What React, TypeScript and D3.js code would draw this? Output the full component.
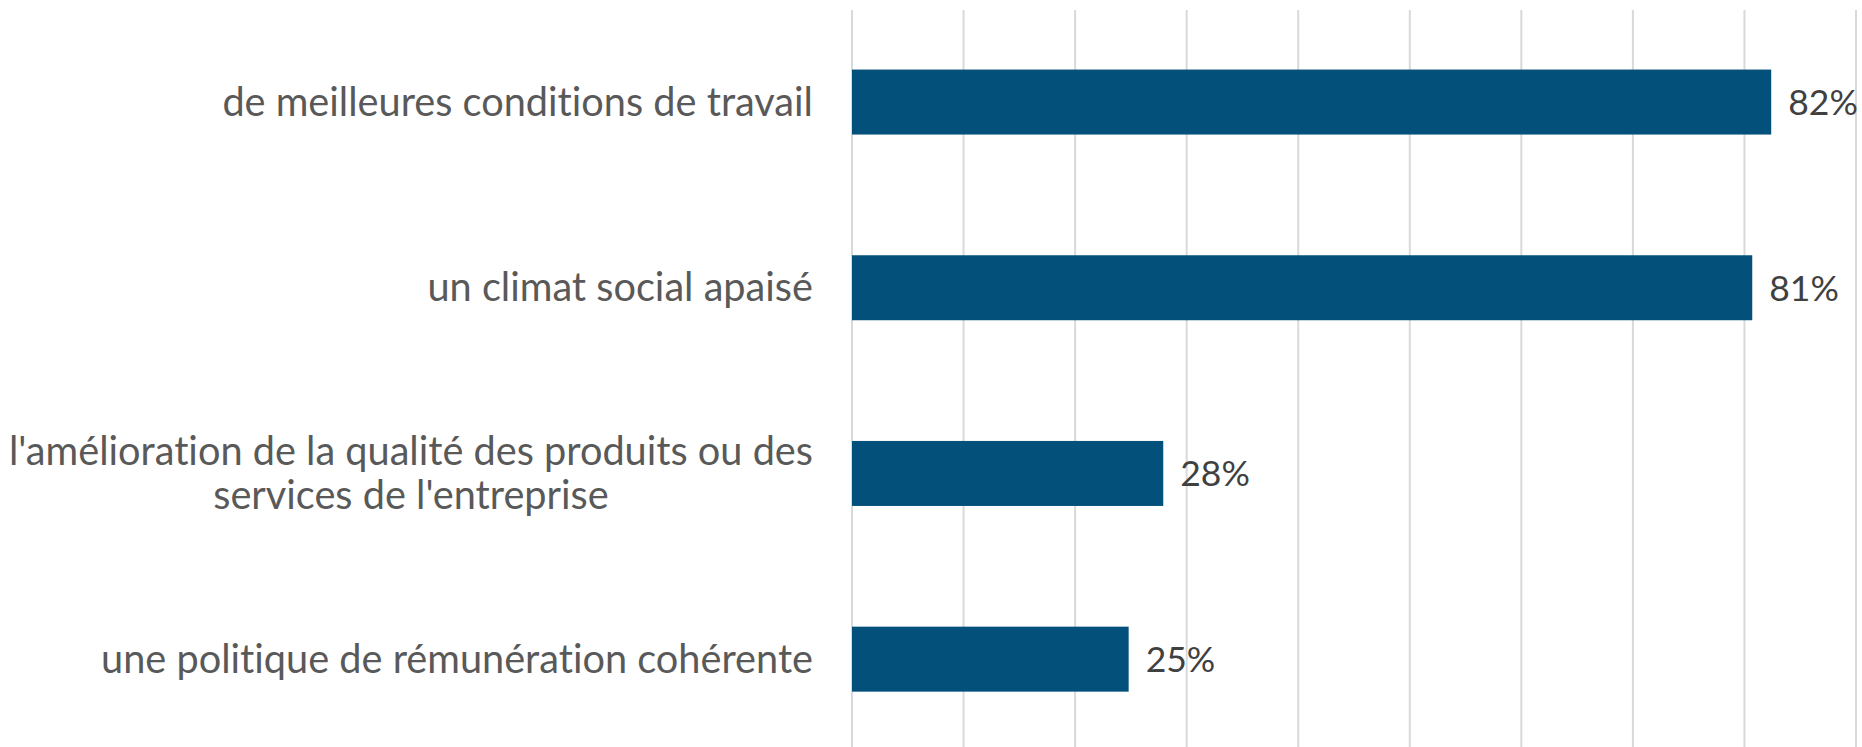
import React, { useEffect, useRef } from "react";
import * as d3 from "d3";

const categories: string[] = [
  "de meilleures conditions de travail",
  "un climat social apaisé",
  "l'amélioration de la qualité des produits ou des\nservices de l'entreprise",
  "une politique de rémunération cohérente",
];
const values: number[] = [0.824, 0.807, 0.279, 0.248];
const axisMax = 0.9;

const W = 1862;
const H = 747;

export default function App() {
  const ref = useRef<SVGSVGElement | null>(null);

  useEffect(() => {
    const svg = d3.select(ref.current);
    svg.selectAll("*").remove();

    const x = d3.scaleLinear().domain([0, axisMax]).range([852, 1856]);
    const y = d3
      .scaleBand<string>()
      .domain(categories)
      .range([9.2, 752])
      .paddingInner(0.65)
      .paddingOuter(0.325);

    const font = "Lato, 'Open Sans', sans-serif";
    const fsVal = 35.5;
    const fsCat = 39.7;

    // gridlines
    svg
      .append("g")
      .selectAll("line")
      .data(x.ticks(9))
      .join("line")
      .attr("x1", (d) => x(d))
      .attr("x2", (d) => x(d))
      .attr("y1", 10)
      .attr("y2", H)
      .attr("stroke", "#d9d9d9")
      .attr("stroke-width", 2);

    // bars
    svg
      .append("g")
      .selectAll("rect")
      .data(categories)
      .join("rect")
      .attr("x", x(0))
      .attr("y", (d) => y(d)!)
      .attr("width", (d, i) => x(values[i]) - x(0))
      .attr("height", y.bandwidth())
      .attr("fill", "#03517a");

    // value labels
    const fmt = d3.format(".0%");
    svg
      .append("g")
      .selectAll("text")
      .data(categories)
      .join("text")
      .attr("x", (d, i) => x(values[i]) + 17)
      .attr("y", (d) => y(d)! + y.bandwidth() / 2)
      .attr("dy", "0.36em")
      .attr("font-family", font)
      .attr("font-size", fsVal)
      .attr("fill", "#404040")
      .text((d, i) => fmt(values[i]));

    // category labels
    const lineH = 44;
    const labelRight = 813;
    categories.forEach((c) => {
      const lines = c.split("\n");
      const g = svg.append("g");
      const cy = y(c)! + y.bandwidth() / 2;
      lines.forEach((ln, i) => {
        g.append("text")
          .attr("x", 0)
          .attr("y", cy + (i - (lines.length - 1) / 2) * lineH)
          .attr("dy", "0.34em")
          .attr("text-anchor", "middle")
          .attr("font-family", font)
          .attr("font-size", fsCat)
          .style("font-variant-ligatures", "none")
          .attr("fill", "#595959")
          .text(ln);
      });
      const bb = (g.node() as SVGGElement).getBBox();
      g.attr("transform", `translate(${labelRight - (bb.x + bb.width)},0)`);
    });
  }, []);

  return (
    <svg
      ref={ref}
      width={W}
      height={H}
      style={{ position: "absolute", left: 0, top: 0, background: "#ffffff" }}
    />
  );
}
